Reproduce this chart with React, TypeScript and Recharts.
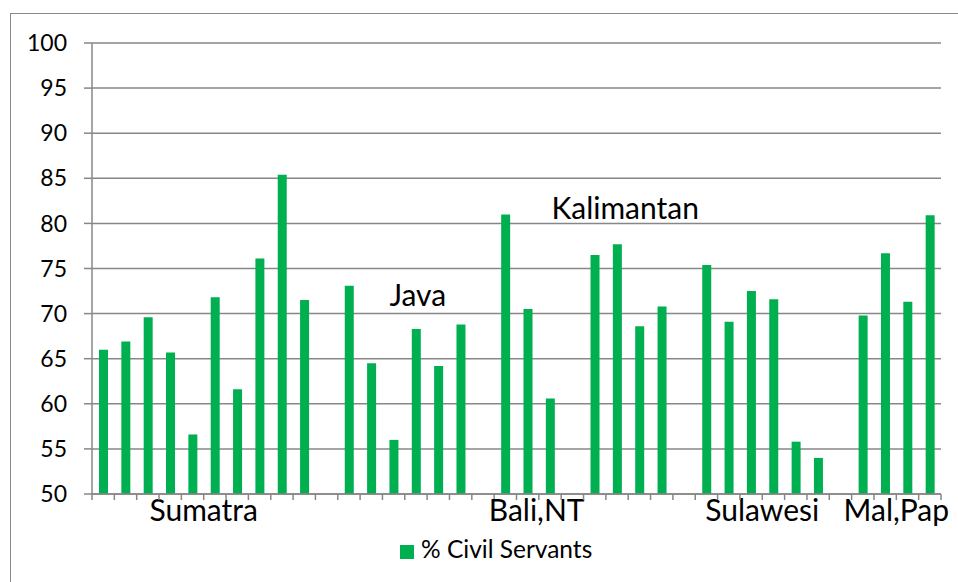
import React from "react";
import { BarChart, Bar, XAxis, YAxis, CartesianGrid, Legend } from "recharts";

// % civil servants per province, grouped by island region
const sumatra = [66.0, 66.9, 69.6, 65.7, 56.6, 71.8, 61.6, 76.1, 85.4, 71.5];
const java = [73.1, 64.5, 56.0, 68.3, 64.2, 68.8];
const baliNT = [81.0, 70.5, 60.6];
const kalimantan = [76.5, 77.7, 68.6, 70.8];
const sulawesi = [75.4, 69.1, 72.5, 71.6, 55.8, 54.0];
const malPap = [69.8, 76.7, 71.3, 80.9];

const regionNames = ["Sumatra", "Java", "Bali,NT", "Kalimantan", "Sulawesi", "Mal,Pap"];
const regionValues = [sumatra, java, baliNT, kalimantan, sulawesi, malPap];
const yTicks = [50, 55, 60, 65, 70, 75, 80, 85, 90, 95, 100];
const seriesName = "% Civil Servants";

type Row = { slot: string; value: number | null };

// one slot per province, with an empty slot between regions
const rows: Row[] = [];
const groupStarts = new Map<number, { name: string; count: number }>();
regionValues.forEach((vals, i) => {
  if (i > 0) rows.push({ slot: `gap${i}`, value: null });
  groupStarts.set(rows.length, { name: regionNames[i], count: vals.length });
  vals.forEach((v, j) => rows.push({ slot: `${regionNames[i]}-${j + 1}`, value: v }));
});

const GRID = "#878787";
const labelShift: Record<string, { dx: number; dy: number }> = {
  Java: { dx: 13, dy: -188 },
  "Bali,NT": { dx: 9, dy: 27 },
  Kalimantan: { dx: -3, dy: -275 },
};

// tick marks sit between categories; region names centred under their group
const GroupTick = (props: any) => {
  const { x, y, index, payload, width, visibleTicksCount } = props;
  const half = payload.offset || width / visibleTicksCount / 2;
  const left = x - half;
  const group = groupStarts.get(index);
  const shift = (group && labelShift[group.name]) || { dx: 0, dy: 27 };
  return (
    <g>
      <line x1={left} x2={left} y1={y} y2={y + 6} stroke={GRID} strokeWidth={1.5} />
      {index === visibleTicksCount - 1 && (
        <line x1={x + half} x2={x + half} y1={y} y2={y + 6} stroke={GRID} strokeWidth={1.5} />
      )}
      {group && (
        <text
          x={left + group.count * half + shift.dx}
          y={y + shift.dy}
          textAnchor="middle"
          fontSize={30}
          fill="#000"
        >
          {group.name}
        </text>
      )}
    </g>
  );
};

export default function App() {
  return (
    <div
      style={{
        position: "fixed",
        left: 0,
        top: 0,
        width: 958,
        height: 582,
        overflow: "hidden",
        background: "#fff",
        fontFamily: "Lato, sans-serif",
      }}
    >
      <div
        style={{
          position: "absolute",
          left: 10,
          top: 13,
          width: 1000,
          height: 1000,
          border: "1.5px solid #8a8a8a",
        }}
      />
      <div style={{ position: "absolute", left: 0, top: 0 }}>
        <BarChart
          width={958}
          height={582}
          data={rows}
          margin={{ top: 14, right: 17, left: 0, bottom: 48 }}
        >
          <CartesianGrid vertical={false} stroke={GRID} strokeWidth={1.5} />
          <XAxis
            dataKey="slot"
            interval={0}
            tickLine={false}
            tickSize={0}
            tickMargin={0}
            height={40}
            stroke={GRID}
            strokeWidth={1.5}
            tick={<GroupTick />}
          />
          <YAxis
            domain={[50, 100]}
            ticks={yTicks}
            interval={0}
            width={92}
            tickSize={8}
            tickMargin={17}
            stroke={GRID}
            strokeWidth={1.5}
            tick={{ fill: "#000", fontSize: 23 }}
          />
          <Bar
            dataKey="value"
            name={seriesName}
            fill="#00B050"
            barSize={9}
            legendType="square"
            isAnimationActive={false}
          />
          <Legend
            iconSize={14}
            align="left"
            verticalAlign="top"
            wrapperStyle={{ top: 534, left: 400, width: 300, fontSize: 24.5 }}
            formatter={(v) => <span style={{ color: "#000", marginLeft: 3 }}>{v}</span>}
          />
        </BarChart>
      </div>
    </div>
  );
}
